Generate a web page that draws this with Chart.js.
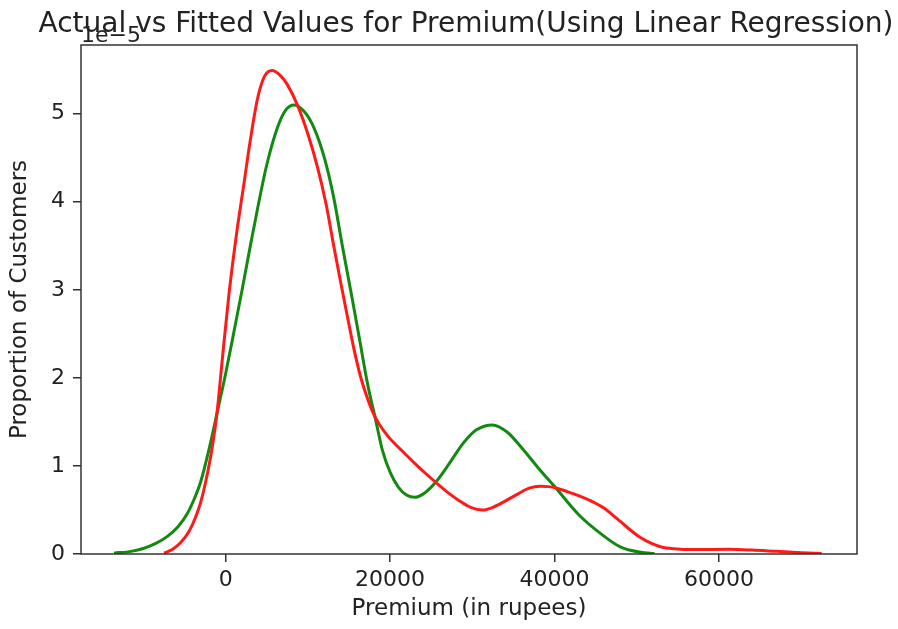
<!DOCTYPE html>
<html>
<head>
<meta charset="utf-8">
<title>Actual vs Fitted Values for Premium</title>
<script src="https://cdn.jsdelivr.net/npm/chart.js@4.4.1/dist/chart.umd.min.js"></script>
<style>
    html, body { margin: 0; padding: 0; background: #fff; }
    #chart { display: block; }
</style>
</head>
<body>
<canvas id="chart" width="898" height="629"></canvas>
<script>
// === Données (densité en unités de 1e-5) ===
const actualX = [-7500, -6500, -5470, -4500, -3650, -3000, -2430, -1620, -1010, -400, 400, 1300, 2230, 3000, 3850, 4700, 5640, 6690, 7500, 8720, 10000, 11150, 12200, 13180, 14000, 14800, 15600, 16420, 17200, 17850, 18700, 19800, 20700, 21690, 23000, 24500, 25850, 27000, 28500, 29800, 31270, 32500, 34000, 35500, 37000, 38230, 39200, 40190, 41500, 43000, 44500, 46060, 47500, 49000, 50400, 51800, 53000, 54500, 57000, 61260, 64000, 67000, 70000, 72500];
const actualY = [0.01, 0.05, 0.13, 0.25, 0.42, 0.60, 0.82, 1.22, 1.64, 2.22, 2.95, 3.62, 4.21, 4.70, 5.16, 5.42, 5.49, 5.43, 5.33, 5.10, 4.77, 4.40, 3.98, 3.48, 3.08, 2.70, 2.33, 2.01, 1.78, 1.62, 1.47, 1.33, 1.24, 1.15, 1.03, 0.90, 0.79, 0.70, 0.60, 0.53, 0.50, 0.53, 0.60, 0.68, 0.75, 0.77, 0.765, 0.75, 0.71, 0.66, 0.60, 0.52, 0.41, 0.29, 0.19, 0.12, 0.08, 0.06, 0.05, 0.053, 0.045, 0.03, 0.015, 0.005];

const fittedX = [-13590, -11500, -9940, -8500, -7090, -5800, -4660, -3800, -3040, -2000, -1000, 0, 1000, 2000, 3000, 4000, 5000, 6290, 7300, 8310, 9500, 10740, 12000, 13180, 14190, 15410, 16300, 17240, 18250, 19060, 20000, 21000, 22000, 23030, 24000, 25000, 25850, 27000, 28000, 29000, 30500, 32460, 34300, 36060, 38000, 40190, 43010, 46060, 48000, 49100, 50500, 52140];
const fittedY = [0.01, 0.03, 0.065, 0.12, 0.20, 0.31, 0.46, 0.63, 0.82, 1.20, 1.62, 2.05, 2.52, 3.0, 3.50, 3.98, 4.42, 4.84, 5.04, 5.10, 5.03, 4.84, 4.50, 4.03, 3.50, 2.89, 2.43, 1.94, 1.52, 1.18, 0.93, 0.76, 0.67, 0.644, 0.68, 0.76, 0.85, 1.00, 1.14, 1.27, 1.41, 1.466, 1.38, 1.20, 0.98, 0.746, 0.44, 0.20, 0.08, 0.045, 0.02, 0.005];

const xTicks = [0, 20000, 40000, 60000];
const yTicks = [0, 1, 2, 3, 4, 5];

const FONT = "'DejaVu Sans', sans-serif";
const INK = '#333333';

// === Titre, texte d'échelle et cadre façon matplotlib ===
const framePlugin = {
    id: 'frame',
    afterDraw(chart) {
        const { ctx, chartArea: a } = chart;
        ctx.save();
        ctx.strokeStyle = INK;
        ctx.lineWidth = 1.5;
        ctx.strokeRect(a.left, a.top, a.right - a.left, a.bottom - a.top);

        ctx.fillStyle = '#222';
        ctx.font = '28px ' + FONT;
        ctx.textAlign = 'center';
        ctx.textBaseline = 'alphabetic';
        ctx.fillText('Actual vs Fitted Values for Premium(Using Linear Regression)', (a.left + a.right) / 2 - 3, 32);

        ctx.font = '22px ' + FONT;
        ctx.textAlign = 'left';
        ctx.fillText('1e\u22125', a.left, 42);
        ctx.restore();
    }
};

const toPoints = (xs, ys) => xs.map((x, i) => ({ x: x, y: ys[i] }));

new Chart(document.getElementById('chart'), {
    type: 'line',
    data: {
        datasets: [
            {
                label: 'Actual Value',
                data: toPoints(actualX, actualY),
                borderColor: '#ff1a1a',
                borderWidth: 3,
                pointRadius: 0,
                cubicInterpolationMode: 'monotone'
            },
            {
                label: 'Fitted Values',
                data: toPoints(fittedX, fittedY),
                borderColor: '#128a12',
                borderWidth: 3,
                pointRadius: 0,
                cubicInterpolationMode: 'monotone'
            }
        ]
    },
    options: {
        responsive: false,
        animation: false,
        layout: { padding: { left: 0, right: 41, top: 45, bottom: 0 } },
        plugins: {
            legend: { display: false },
            tooltip: { enabled: false }
        },
        scales: {
            x: {
                type: 'linear',
                min: -17600,
                max: 76800,
                afterBuildTicks: s => { s.ticks = xTicks.map(v => ({ value: v })); },
                afterFit: s => { s.height = 75; },
                border: { display: false },
                grid: { drawOnChartArea: false, drawTicks: true, tickLength: 8, color: INK, lineWidth: 1.5 },
                ticks: { color: '#222', padding: 5, font: { family: FONT, size: 22 }, callback: v => String(v), maxRotation: 0 },
                title: { display: true, text: 'Premium (in rupees)', color: '#222', font: { family: FONT, size: 23 }, padding: { top: 0, bottom: 6 } }
            },
            y: {
                type: 'linear',
                min: 0,
                max: 5.78,
                afterBuildTicks: s => { s.ticks = yTicks.map(v => ({ value: v })); },
                afterFit: s => { s.width = 81; },
                border: { display: false },
                grid: { drawOnChartArea: false, drawTicks: true, tickLength: 8, color: INK, lineWidth: 1.5 },
                ticks: { color: '#222', padding: 8, font: { family: FONT, size: 22 }, callback: v => String(v) },
                title: { display: true, text: 'Proportion of Customers', color: '#222', font: { family: FONT, size: 23 }, padding: { top: 6, bottom: 0 } }
            }
        }
    },
    plugins: [framePlugin]
});
</script>
</body>
</html>
